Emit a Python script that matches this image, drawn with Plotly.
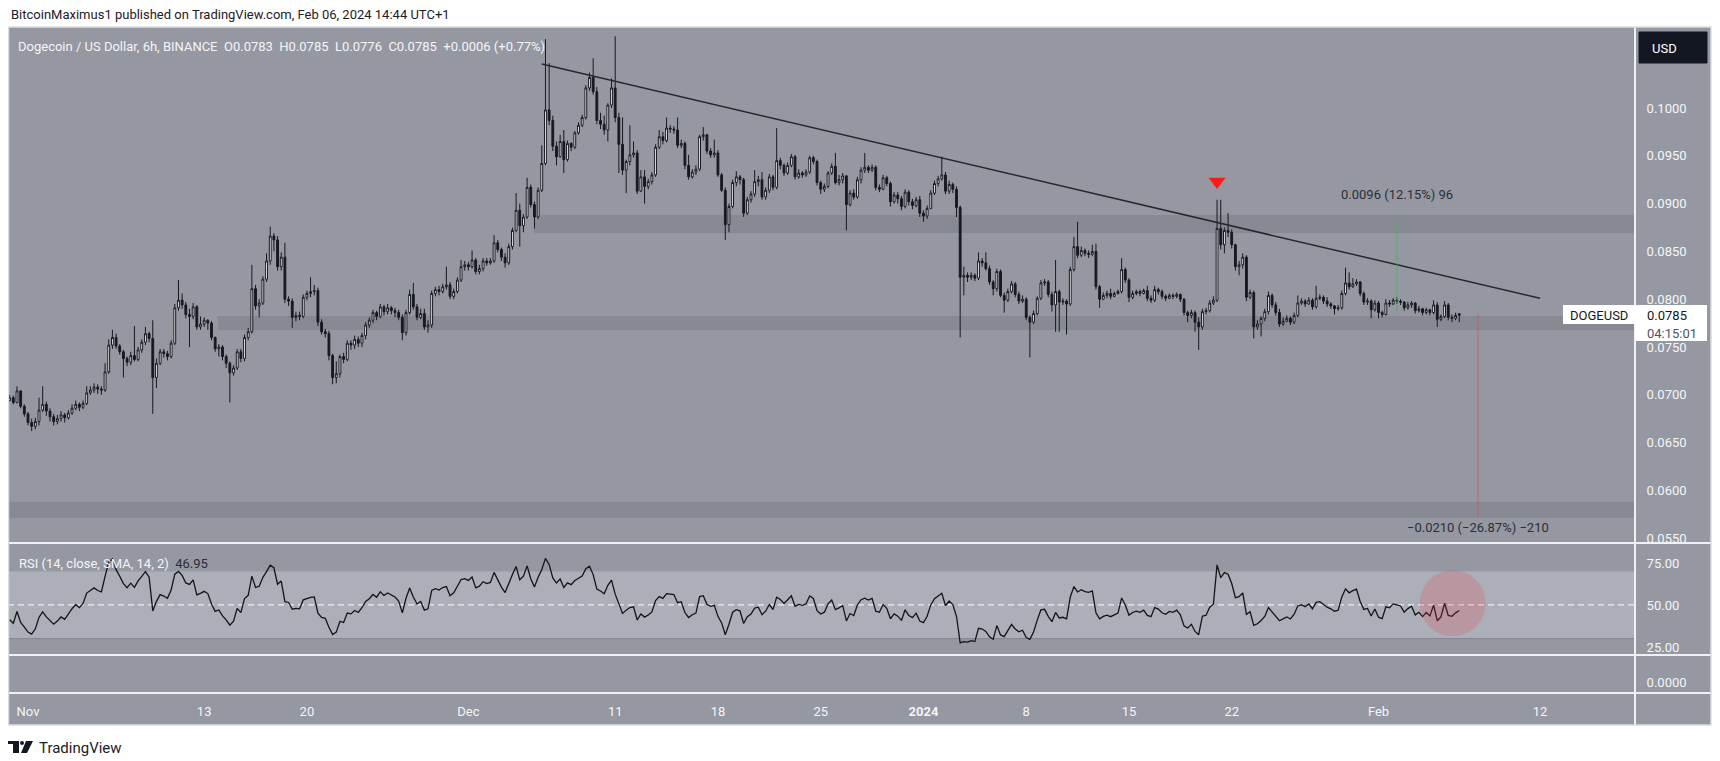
import numpy as np
import pandas as pd
import plotly.graph_objects as go

# ---------------- data (prices in units of 0.0001 USD) ----------------
SCALE = 1e-4
START = "2023-10-30 18:00"   # first 6h candle
OPEN_FIRST = 694
CLOSE = [
    697, 692, 704, 688, 680, 671, 667, 672, 684, 690,
    683, 677, 672, 675, 679, 676, 681, 686, 690, 687,
    691, 702, 705, 708, 706, 705, 724, 752, 760, 751,
    745, 738, 734, 741, 737, 747, 755, 764, 759, 718,
    733, 745, 743, 740, 754, 791, 799, 794, 784, 782,
    792, 771, 774, 778, 775, 760, 748, 750, 740, 733,
    723, 728, 745, 738, 760, 766, 811, 793, 796, 821,
    840, 866, 862, 834, 844, 800, 798, 781, 783, 782,
    802, 806, 808, 809, 776, 766, 764, 741, 718, 722,
    740, 737, 754, 752, 758, 754, 762, 773, 778, 786,
    782, 792, 787, 791, 788, 786, 781, 765, 786, 805,
    792, 781, 785, 771, 773, 806, 810, 808, 813, 815,
    803, 808, 820, 834, 836, 834, 841, 829, 832, 840,
    838, 840, 859, 852, 844, 838, 855, 872, 893, 877,
    886, 917, 899, 886, 914, 942, 998, 987, 960, 949,
    965, 946, 963, 959, 974, 982, 990, 1021, 1032, 1017,
    987, 983, 977, 1003, 1021, 990, 962, 935, 944, 951,
    953, 913, 928, 918, 923, 930, 959, 970, 966, 979,
    978, 977, 961, 963, 940, 928, 933, 936, 970, 972,
    955, 951, 953, 930, 914, 878, 897, 922, 928, 925,
    890, 904, 910, 923, 925, 907, 914, 928, 917, 945,
    940, 932, 940, 949, 928, 932, 930, 933, 948, 944,
    922, 915, 918, 932, 939, 922, 925, 929, 899, 911,
    907, 925, 935, 938, 935, 938, 917, 915, 927, 921,
    902, 909, 905, 897, 912, 902, 898, 904, 890, 887,
    895, 911, 921, 926, 930, 913, 920, 915, 896, 823,
    825, 823, 825, 822, 840, 838, 832, 818, 811, 829,
    804, 799, 808, 816, 805, 798, 800, 781, 776, 785,
    801, 817, 818, 805, 794, 808, 797, 798, 795, 831,
    855, 846, 851, 848, 847, 850, 813, 800, 804, 806,
    803, 806, 808, 831, 820, 802, 806, 808, 806, 809,
    801, 799, 810, 808, 803, 801, 804, 803, 805, 800,
    786, 783, 786, 776, 771, 787, 788, 796, 799, 874,
    857, 872, 870, 857, 834, 836, 844, 802, 807, 771,
    774, 780, 787, 804, 794, 786, 774, 777, 780, 776,
    783, 796, 798, 795, 799, 792, 801, 802, 798, 795,
    793, 790, 791, 806, 817, 813, 816, 818, 806, 797,
    798, 789, 796, 786, 784, 796, 795, 799, 798, 797,
    791, 794, 796, 788, 790, 786, 789, 786, 794, 779,
    782, 794, 781, 780, 783, 785,
]
HIGH = [
    700, 699, 709, 705, 690, 682, 675, 676, 697, 709,
    693, 686, 680, 679, 683, 681, 684, 690, 694, 692,
    694, 709, 709, 712, 711, 709, 733, 758, 768, 764,
    753, 747, 740, 745, 772, 750, 758, 771, 766, 778,
    738, 748, 748, 746, 757, 795, 820, 806, 797, 790,
    796, 794, 782, 781, 779, 777, 761, 753, 752, 742,
    735, 731, 748, 748, 763, 770, 836, 815, 800, 824,
    848, 876, 869, 866, 849, 859, 803, 801, 787, 787,
    805, 809, 823, 815, 812, 779, 769, 767, 743, 735,
    742, 744, 757, 757, 762, 761, 765, 776, 781, 789,
    788, 795, 794, 795, 793, 791, 789, 784, 789, 810,
    817, 795, 790, 790, 778, 809, 813, 814, 816, 834,
    818, 811, 823, 841, 840, 839, 851, 843, 836, 843,
    843, 843, 867, 862, 854, 848, 858, 875, 911, 900,
    889, 927, 920, 902, 917, 961, 1072, 1047, 992, 965,
    972, 977, 966, 964, 976, 985, 993, 1024, 1037, 1052,
    1022, 995, 992, 1005, 1031, 1075, 995, 990, 946, 982,
    965, 956, 935, 935, 926, 933, 962, 977, 975, 990,
    982, 981, 990, 967, 965, 951, 936, 940, 972, 980,
    973, 958, 967, 956, 932, 917, 900, 925, 934, 930,
    927, 907, 913, 935, 929, 933, 917, 931, 930, 979,
    948, 942, 943, 952, 951, 936, 934, 936, 950, 950,
    946, 924, 921, 934, 942, 953, 930, 932, 930, 914,
    915, 928, 938, 953, 940, 941, 940, 920, 930, 929,
    923, 912, 912, 908, 915, 914, 905, 907, 908, 893,
    898, 914, 924, 929, 949, 933, 924, 922, 918, 898,
    834, 828, 828, 827, 849, 843, 849, 835, 820, 832,
    831, 807, 811, 819, 818, 808, 804, 802, 783, 788,
    803, 820, 821, 820, 808, 841, 810, 801, 800, 834,
    865, 881, 855, 853, 851, 857, 858, 815, 807, 809,
    811, 808, 810, 843, 833, 822, 809, 810, 810, 811,
    814, 804, 814, 812, 810, 805, 806, 806, 807, 806,
    801, 788, 789, 788, 781, 790, 791, 799, 803, 904,
    904, 875, 890, 873, 858, 840, 848, 846, 810, 809,
    778, 782, 790, 808, 806, 797, 790, 781, 783, 782,
    786, 804, 801, 800, 802, 801, 814, 805, 804, 802,
    797, 794, 794, 809, 833, 828, 822, 821, 819, 808,
    801, 800, 799, 798, 788, 800, 799, 801, 802, 800,
    798, 797, 798, 797, 793, 791, 791, 790, 799, 797,
    784, 798, 796, 784, 786, 785,
]
LOW = [
    693, 690, 691, 686, 677, 668, 662, 664, 668, 682,
    678, 672, 668, 669, 672, 671, 674, 679, 684, 683,
    685, 689, 700, 702, 701, 700, 703, 722, 748, 748,
    742, 718, 730, 731, 735, 735, 744, 752, 755, 680,
    707, 731, 739, 736, 738, 752, 788, 790, 780, 750,
    779, 768, 768, 771, 768, 757, 745, 740, 736, 728,
    692, 720, 726, 734, 735, 757, 764, 789, 781, 794,
    818, 836, 850, 830, 830, 796, 793, 770, 777, 778,
    780, 799, 802, 804, 772, 763, 760, 736, 711, 712,
    718, 733, 735, 747, 748, 750, 750, 758, 770, 775,
    778, 780, 783, 784, 784, 781, 778, 757, 762, 784,
    789, 778, 779, 768, 765, 770, 803, 804, 806, 810,
    800, 800, 806, 818, 830, 830, 832, 826, 826, 829,
    835, 836, 838, 849, 840, 833, 836, 852, 870, 855,
    870, 884, 896, 874, 884, 912, 940, 982, 955, 940,
    948, 932, 944, 955, 957, 972, 980, 988, 1018, 1014,
    983, 978, 972, 965, 1000, 985, 932, 930, 911, 940,
    948, 910, 912, 900, 915, 920, 928, 957, 962, 964,
    974, 973, 958, 958, 936, 925, 926, 930, 934, 966,
    952, 948, 948, 928, 912, 862, 870, 895, 918, 920,
    886, 888, 901, 907, 918, 904, 904, 911, 914, 915,
    936, 929, 930, 938, 925, 926, 927, 928, 931, 941,
    919, 910, 912, 916, 930, 920, 919, 921, 872, 897,
    904, 905, 921, 932, 932, 933, 914, 912, 914, 918,
    897, 900, 900, 893, 895, 898, 894, 896, 886, 881,
    884, 894, 909, 918, 924, 910, 910, 911, 886, 760,
    804, 818, 820, 819, 820, 834, 830, 815, 804, 808,
    802, 786, 797, 806, 802, 795, 796, 778, 739, 774,
    783, 799, 814, 802, 787, 766, 766, 794, 763, 793,
    829, 843, 844, 845, 843, 845, 810, 791, 799, 801,
    800, 802, 805, 806, 817, 797, 800, 804, 803, 805,
    798, 796, 797, 805, 800, 798, 800, 800, 801, 797,
    783, 776, 780, 766, 747, 768, 784, 786, 794, 797,
    852, 848, 865, 853, 830, 825, 832, 798, 800, 759,
    768, 761, 777, 784, 791, 783, 771, 772, 776, 773,
    774, 781, 794, 792, 794, 789, 790, 799, 795, 792,
    790, 784, 788, 789, 804, 810, 812, 814, 803, 794,
    794, 780, 787, 780, 781, 783, 792, 794, 795, 794,
    788, 789, 791, 785, 786, 783, 784, 783, 784, 771,
    777, 780, 778, 776, 778, 776,
]

# support zones (price bounds) and drawings
ZONE_UPPER = (0.08692, 0.08881, "2023-12-05 11:15")
ZONE_LOWER = (0.07678, 0.07824, "2023-11-13 22:30")
ZONE_BOTTOM = (0.05712, 0.05879, None)
TREND = (("2023-12-06 00:00", 0.1046), ("2024-02-12 00:00", 0.0801))
SIGNAL = ("2024-01-21 00:00", 0.0923)
MEAS_UP = ("2024-02-02 06:15", 0.0785, 0.0881, "0.0096 (12.15%) 96", 0.0910)
MEAS_DN = ("2024-02-07 18:30", 0.0785, 0.0572, "\u22120.0210 (\u221226.87%) \u2212210", 0.05617)
CIRCLE = ("2024-02-06 01:10", 51.0)

X_RANGE = ["2023-10-30 15:18", "2024-02-18 11:18"]
PRICE_RANGE = [0.054498, 0.108473]
RSI_RANGE = [20.2, 86.9]
PRICE_TICKS = [0.055, 0.060, 0.065, 0.070, 0.075, 0.080, 0.085, 0.090, 0.095, 0.100]
RSI_TICKS = [25, 50, 75]
DATE_TICKS = ["2023-11-01", "2023-11-13", "2023-11-20", "2023-12-01", "2023-12-11",
              "2023-12-18", "2023-12-25", "2024-01-01", "2024-01-08", "2024-01-15",
              "2024-01-22", "2024-02-01", "2024-02-12"]
DATE_LABELS = ["Nov", "13", "20", "Dec", "11", "18", "25", "<b>2024</b>", "8", "15",
               "22", "Feb", "12"]

# ---------------- derived series ----------------
times = pd.date_range(START, periods=len(CLOSE), freq="6h")
close = np.array(CLOSE, float) * SCALE
opn = np.concatenate([[OPEN_FIRST * SCALE], close[:-1]])
high = np.maximum.reduce([np.array(HIGH, float) * SCALE, opn, close])
low = np.minimum.reduce([np.array(LOW, float) * SCALE, opn, close])


def rsi(c, n=14):
    d = np.diff(c)
    g = np.where(d > 0, d, 0.0)
    l = np.where(d < 0, -d, 0.0)
    ag, al = g[:n].mean(), l[:n].mean()
    out = np.empty(len(c))
    out[0] = 100 - 100 / (1 + ag / al)
    for i in range(len(d)):
        ag = (ag * (n - 1) + g[i]) / n
        al = (al * (n - 1) + l[i]) / n
        out[i + 1] = 100 - 100 / (1 + ag / al) if al > 0 else 100.0
    return out


rsi_vals = rsi(close)

# ---------------- layout helpers (screen pixel -> paper) ----------------
# the page body has an 8px margin, so the figure starts at screen pixel (8, 8)
OFF = 8
W, H = 1712, 753
PLOT_L, PLOT_R, PLOT_T, PLOT_B = 8, 1635, 27, 693   # screen pixels
ML, MT = PLOT_L - OFF, PLOT_T - OFF
MR, MB = W + OFF - PLOT_R, H + OFF - PLOT_B
PW, PH = PLOT_R - PLOT_L, PLOT_B - PLOT_T


def PX(px):
    return (px - PLOT_L) / PW


def PY(py):
    return (PLOT_B - py) / PH


FONT = "Roboto, 'Open Sans', sans-serif"
BG = "#9598a1"
ZONE = "#878a93"
BAND = "#acafb8"
WHITE_TXT = "#f4f5f8"
DARK = "#131722"

fig = go.Figure()
fig.add_trace(go.Candlestick(
    x=times, open=opn, high=high, low=low, close=close,
    increasing=dict(line=dict(color="#17191f", width=1), fillcolor="#ffffff"),
    decreasing=dict(line=dict(color="#17191f", width=1), fillcolor="#17191f"),
    whiskerwidth=0, showlegend=False, hoverinfo="skip", xaxis="x", yaxis="y"))

# trend line drawing
fig.add_trace(go.Scatter(x=[TREND[0][0], TREND[1][0]], y=[TREND[0][1], TREND[1][1]],
                         mode="lines", line=dict(color="#26282d", width=1.5),
                         showlegend=False, hoverinfo="skip", yaxis="y"))
# measurement lines
fig.add_trace(go.Scatter(x=[MEAS_UP[0], MEAS_UP[0]], y=[MEAS_UP[1], MEAS_UP[2]], mode="lines",
                         line=dict(color="rgba(76,175,80,0.75)", width=1),
                         showlegend=False, hoverinfo="skip", yaxis="y"))
fig.add_trace(go.Scatter(x=[MEAS_DN[0], MEAS_DN[0]], y=[MEAS_DN[1], MEAS_DN[2]], mode="lines",
                         line=dict(color="rgba(242,54,69,0.55)", width=1),
                         showlegend=False, hoverinfo="skip", yaxis="y"))
# signal marker
fig.add_trace(go.Scatter(x=[SIGNAL[0]], y=[SIGNAL[1]], mode="markers",
                         marker=dict(symbol="triangle-down", size=15, color="#ff1a1a",
                                     line=dict(width=0)),
                         showlegend=False, hoverinfo="skip", yaxis="y"))
# RSI
fig.add_trace(go.Scatter(x=times, y=rsi_vals, mode="lines",
                         line=dict(color="#141414", width=1.3),
                         showlegend=False, hoverinfo="skip", yaxis="y2"))
# empty bottom pane
fig.add_trace(go.Scatter(x=[times[0]], y=[None], mode="lines", showlegend=False,
                         hoverinfo="skip", yaxis="y3"))

shapes = []
# panel backgrounds outside the plot area
shapes.append(dict(type="rect", xref="paper", yref="paper", x0=PX(1635), x1=PX(1711),
                   y0=PY(725), y1=PY(27), fillcolor=BG, line=dict(width=0), layer="below"))
shapes.append(dict(type="rect", xref="paper", yref="paper", x0=PX(8), x1=PX(1635),
                   y0=PY(725), y1=PY(693), fillcolor=BG, line=dict(width=0), layer="below"))
# zones
for lo, hi, x0 in (ZONE_UPPER, ZONE_LOWER, ZONE_BOTTOM):
    shapes.append(dict(type="rect", xref="x", yref="y", x0=x0 or X_RANGE[0], x1=X_RANGE[1],
                       y0=lo, y1=hi, fillcolor=ZONE, line=dict(width=0), layer="below"))
# RSI band
shapes.append(dict(type="rect", xref="paper", yref="y2", x0=0, x1=1, y0=30, y1=70,
                   fillcolor=BAND, line=dict(width=0), layer="below"))
shapes.append(dict(type="line", xref="paper", yref="y2", x0=0, x1=1, y0=30, y1=30,
                   line=dict(color="#858892", width=1), layer="below"))
shapes.append(dict(type="line", xref="paper", yref="y2", x0=0, x1=1, y0=70, y1=70,
                   line=dict(color="#a2a5ae", width=1), layer="below"))
shapes.append(dict(type="line", xref="paper", yref="y2", x0=0, x1=1, y0=50, y1=50,
                   line=dict(color="#eceef2", width=1.2, dash="6px,4px"), layer="below"))
# highlight circle
shapes.append(dict(type="circle", xref="x", yref="y2", xsizemode="pixel", ysizemode="pixel",
                   xanchor=CIRCLE[0], yanchor=CIRCLE[1], x0=-33, x1=33, y0=-33, y1=33,
                   fillcolor="rgba(242,54,69,0.2)", line=dict(width=0), layer="above"))
# separators
for py in (543, 655, 693):
    shapes.append(dict(type="line", xref="paper", yref="paper", x0=PX(8), x1=PX(1711),
                       y0=PY(py), y1=PY(py), line=dict(color="#f0f1f4", width=2), layer="above"))
shapes.append(dict(type="line", xref="paper", yref="paper", x0=PX(1635), x1=PX(1635),
                   y0=PY(725), y1=PY(27), line=dict(color="#f0f1f4", width=2), layer="above"))
shapes.append(dict(type="rect", xref="paper", yref="paper", x0=PX(8.5), x1=PX(1711),
                   y0=PY(725), y1=PY(27), line=dict(color="#d9dbe0", width=1.5), layer="above"))
# price label boxes
shapes.append(dict(type="rect", xref="paper", yref="paper", x0=PX(1563), x1=PX(1635),
                   y0=PY(324), y1=PY(305), fillcolor="#ffffff", line=dict(width=0), layer="above"))
shapes.append(dict(type="rect", xref="paper", yref="paper", x0=PX(1635), x1=PX(1707),
                   y0=PY(341), y1=PY(305), fillcolor="#ffffff", line=dict(width=0), layer="above"))
# USD button
shapes.append(dict(type="rect", xref="paper", yref="paper", x0=PX(1639), x1=PX(1707),
                   y0=PY(63), y1=PY(32), fillcolor=DARK, line=dict(color=DARK, width=1),
                   layer="above"))
# TradingView logo (simplified)
shapes.append(dict(type="rect", xref="paper", yref="paper", x0=PX(8), x1=PX(19),
                   y0=PY(744), y1=PY(741), fillcolor=DARK, line=dict(width=0)))
shapes.append(dict(type="rect", xref="paper", yref="paper", x0=PX(13), x1=PX(19),
                   y0=PY(753), y1=PY(741), fillcolor=DARK, line=dict(width=0)))
shapes.append(dict(type="circle", xref="paper", yref="paper", x0=PX(20), x1=PX(24),
                   y0=PY(745), y1=PY(741), fillcolor=DARK, line=dict(width=0)))
shapes.append(dict(type="path", xref="paper", yref="paper",
                   path=f"M {PX(26)} {PY(741)} L {PX(33)} {PY(741)} L {PX(27)} {PY(753)} L {PX(21)} {PY(753)} Z",
                   fillcolor=DARK, line=dict(width=0)))


def ann(text, px, py, size=13, color=WHITE_TXT, xanchor="left", xref="paper", yref="paper", x=None, y=None):
    return dict(text=text, x=PX(px) if x is None else x, y=PY(py) if y is None else y,
                xref=xref, yref=yref, xanchor=xanchor, yanchor="middle", showarrow=False,
                font=dict(size=size, color=color, family=FONT))


NB = "\u00a0\u00a0"
annotations = [
    ann("BitcoinMaximus1 published on TradingView.com, Feb 06, 2024 14:44 UTC+1", 9, 14, 13, "#1e2029"),
    ann("Dogecoin / US Dollar, 6h, BINANCE" + NB + "O0.0783" + NB + "H0.0785" + NB + "L0.0776" + NB
        + "C0.0785" + NB + "+0.0006 (+0.77%)", 16, 47, 13, WHITE_TXT),
    ann("RSI (14, close, SMA, 14, 2)" + NB + "<span style='color:#2a2e39'>46.95</span>", 17, 563, 13,
        WHITE_TXT),
    ann("USD", 1650, 48, 13, "#ffffff"),
    ann("DOGEUSD", 1599, 315, 13, DARK, xanchor="center"),
    ann("0.0785", 1645, 315, 13, DARK),
    ann("04:15:01", 1645, 333, 13, "#50535e"),
    ann("TradingView", 37, 748, 15, "#1e2029"),
    ann(MEAS_UP[3], 0, 0, 13, "#2c2f38", xanchor="center", xref="x", yref="y",
        x=MEAS_UP[0], y=MEAS_UP[4]),
    ann(MEAS_DN[3], 0, 0, 13, "#2c2f38", xanchor="center", xref="x", yref="y",
        x=MEAS_DN[0], y=MEAS_DN[4]),
]

tickfont = dict(size=13, color=WHITE_TXT, family=FONT)
fig.update_layout(
    width=W, height=H, margin=dict(l=ML, r=MR, t=MT, b=MB, pad=0),
    paper_bgcolor="#ffffff", plot_bgcolor=BG, showlegend=False,
    shapes=shapes, annotations=annotations,
    xaxis=dict(domain=[0, 1], anchor="y3", type="date", range=X_RANGE,
               tickvals=DATE_TICKS, ticktext=DATE_LABELS, showgrid=False, zeroline=False,
               showline=False, ticks="outside", ticklen=6, tickcolor="rgba(0,0,0,0)",
               tickfont=tickfont, rangeslider=dict(visible=False), fixedrange=True),
    yaxis=dict(domain=[PY(543), 1], range=PRICE_RANGE, side="right", anchor="x",
               tickvals=PRICE_TICKS, tickformat=".4f", showgrid=False, zeroline=False,
               showline=False, ticks="outside", ticklen=8, tickcolor="rgba(0,0,0,0)",
               tickfont=tickfont, fixedrange=True),
    yaxis2=dict(domain=[PY(655), PY(543)], range=RSI_RANGE, side="right", anchor="x",
                tickvals=RSI_TICKS, ticktext=[f"{v:.2f}" for v in RSI_TICKS], showgrid=False,
                zeroline=False, showline=False, ticks="outside", ticklen=8,
                tickcolor="rgba(0,0,0,0)", tickfont=tickfont, fixedrange=True),
    yaxis3=dict(domain=[0, PY(655)], range=[-0.289, 0.711], side="right", anchor="x",
                tickvals=[0], ticktext=["0.0000"], showgrid=False, zeroline=False,
                showline=False, ticks="outside", ticklen=8, tickcolor="rgba(0,0,0,0)",
                tickfont=tickfont, fixedrange=True),
)

fig.write_html("out.html")
